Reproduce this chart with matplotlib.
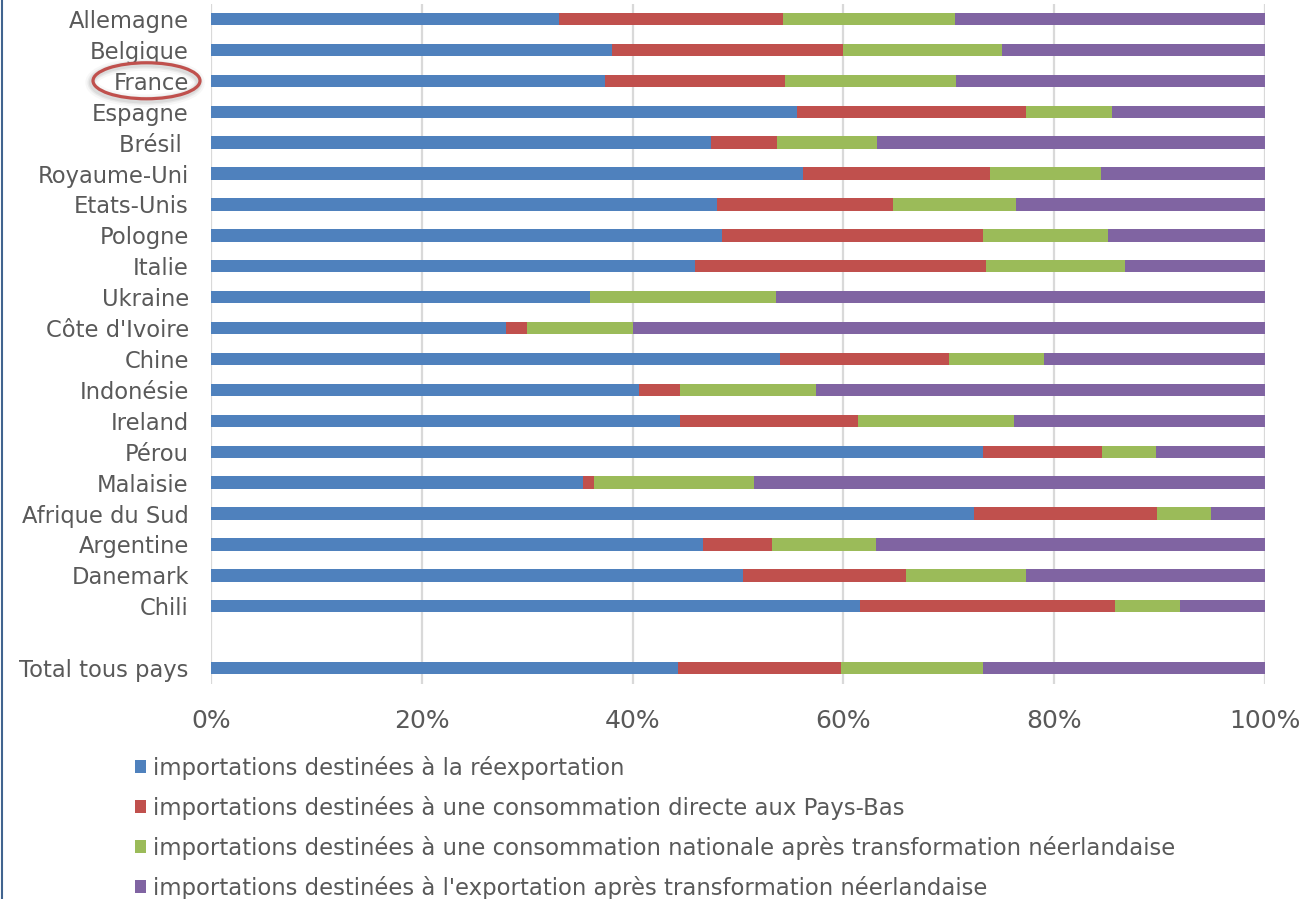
import numpy as np
import matplotlib
matplotlib.use('Agg')
import matplotlib.pyplot as plt
from matplotlib.patches import Ellipse, Patch
from matplotlib.lines import Line2D
from matplotlib.ticker import FuncFormatter

# Share of imports by destination (%), per country of origin
pays = ['Allemagne', 'Belgique', 'France', 'Espagne', 'Brésil ', 'Royaume-Uni',
        'Etats-Unis', 'Pologne', 'Italie', 'Ukraine', "Côte d'Ivoire", 'Chine',
        'Indonésie', 'Ireland', 'Pérou', 'Malaisie', 'Afrique du Sud',
        'Argentine', 'Danemark', 'Chili', 'Total tous pays']

reexportation = [33.0, 38.0, 37.4, 55.6, 47.4, 56.2, 48.0, 48.5, 45.9, 36.0,
                 28.0, 54.0, 40.6, 44.5, 73.2, 35.3, 72.4, 46.7, 50.5, 61.6, 44.3]
conso_directe = [21.3, 22.0, 17.1, 21.7, 6.3, 17.7, 16.7, 24.7, 27.6, 0.0,
                 2.0, 16.0, 3.9, 16.9, 11.3, 1.0, 17.35, 6.5, 15.4, 24.2, 15.5]
conso_transfo = [16.3, 15.0, 16.2, 8.2, 9.5, 10.5, 11.7, 11.9, 13.2, 17.6,
                 10.0, 9.0, 12.9, 14.8, 5.2, 15.2, 5.15, 9.9, 11.4, 6.1, 13.4]
export_transfo = [29.4, 25.0, 29.3, 14.5, 36.8, 15.6, 23.6, 14.9, 13.3, 46.4,
                  60.0, 21.0, 42.6, 23.8, 10.3, 48.5, 5.1, 36.9, 22.7, 8.1, 26.8]

series_labels = [
    'importations destinées à la réexportation',
    'importations destinées à une consommation directe aux Pays-Bas',
    'importations destinées à une consommation nationale après transformation néerlandaise',
    "importations destinées à l'exportation après transformation néerlandaise",
]
couleurs = ['#4F81BD', '#C0504D', '#9BBB59', '#8064A2']
gris_texte = '#595959'

plt.rcParams['font.family'] = ['DejaVu Sans']

W, H = 1304, 899
fig = plt.figure(figsize=(W / 100, H / 100), dpi=100)
ax = fig.add_axes([211 / W, 1 - 683.5 / H, (1265 - 211) / W, (683.5 - 3.5) / H])

# one blank slot between the countries and the total
y_pos = np.r_[np.arange(len(pays) - 1), len(pays)]

data = np.array([reexportation, conso_directe, conso_transfo, export_transfo])
left = np.zeros(len(pays))
for vals, col in zip(data, couleurs):
    ax.barh(y_pos, vals, left=left, height=0.4, color=col, zorder=3)
    left += vals

ax.set_xlim(0, 100)
ax.set_ylim(y_pos[-1] + 0.5, -0.5)
ax.set_yticks(y_pos)
ax.set_yticklabels(pays)
ax.set_xticks(np.arange(0, 101, 20))
ax.xaxis.set_major_formatter(FuncFormatter(lambda v, p: f'{v:.0f}%'))
ax.tick_params(axis='y', length=0, pad=16, labelsize=16.3, labelcolor=gris_texte)
ax.tick_params(axis='x', length=0, pad=18, labelsize=18, labelcolor=gris_texte)
for s in ax.spines.values():
    s.set_visible(False)
ax.grid(axis='x', color='#D9D9D9', linewidth=1.6, zorder=0)
ax.set_axisbelow(True)

# highlight circle around France
i_fr = pays.index('France')
tr = ax.get_yaxis_transform()
for lw, a in [(9, 0.06), (6, 0.10), (4, 0.14)]:
    ax.add_patch(Ellipse((-0.0625, y_pos[i_fr] + 0.06), 0.1015, 1.17, transform=tr,
                         fill=False, edgecolor='#808080', linewidth=lw, alpha=a,
                         clip_on=False, zorder=4))
ax.add_patch(Ellipse((-0.0612, y_pos[i_fr]), 0.1015, 1.165, transform=tr,
                     fill=False, edgecolor='#C0504D', linewidth=2.3,
                     clip_on=False, zorder=5))

handles = [Patch(facecolor=c, edgecolor='none') for c in couleurs]
fig.legend(handles, series_labels, loc='upper left',
           bbox_to_anchor=(135 / W, 1 - 756 / H), frameon=False,
           fontsize=16.4, labelcolor=gris_texte, handlelength=0.5,
           handleheight=0.5, handletextpad=0.3, labelspacing=0.7,
           borderpad=0, borderaxespad=0)

# frame edge on the left
fig.add_artist(Line2D([1.5 / W, 1.5 / W], [0, 1], transform=fig.transFigure,
                      color='#41648F', linewidth=1.5))

fig.savefig('out.png', dpi=100)
